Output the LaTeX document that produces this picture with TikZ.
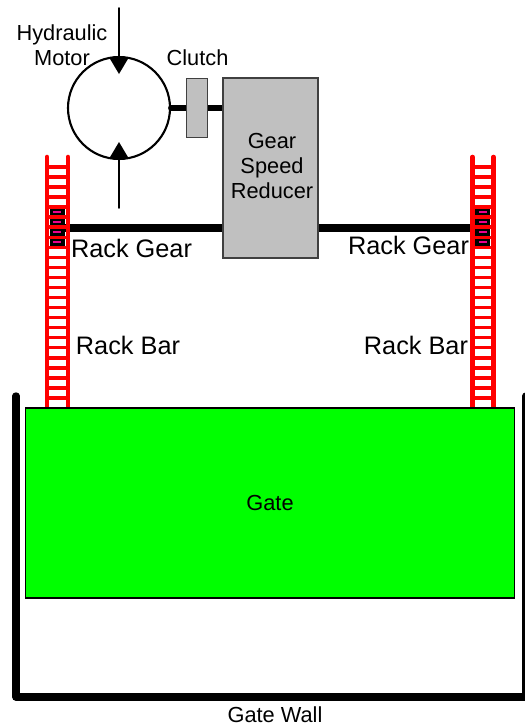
\documentclass[tikz,border=0pt]{standalone}
\usepackage{fontspec, tkz-euclide}
\setmainfont{Liberation Sans}
\tikzset{>=stealth}
\definecolor{boxgray}{HTML}{C0C0C0}
\tikzset{
    lab/.style={inner sep=0pt, font=\fontsize{6.2}{7.1}\selectfont, align=center},
    biglab/.style={inner sep=0pt, font=\fontsize{7.2}{8}\selectfont},
    part/.style={draw=black!75, line width=0.4pt, fill=boxgray, inner sep=0pt},
    shaft/.style={line width=2.1pt, line cap=butt},
    rail/.style={red, line width=1.3pt, line cap=round},
    rung/.style={red, line width=1pt}
}

\begin{document}
\begin{tikzpicture}
    \useasboundingbox (0,0) rectangle (5.25,7.26);
    \clip (0,0) rectangle (5.25,7.26);
    \tkzDefPoints{1.19/7.18/A, 1.19/6.68/B, 1.19/5.68/C, 1.19/5.18/D}
    \tkzDefPoints{0.57/4.98/E, 2.23/4.98/F, 3.18/4.98/G, 4.83/4.98/H}
    \tkzDefPoints{0.16/3.30/J, 0.16/0.29/K, 5.26/0.29/L, 5.26/3.30/M}
    % motor, clutch and reducer
    \node (motor) at (1.19,6.18) [circle, draw, line width=0.6pt, minimum size=1.02cm, inner sep=0pt] {};
    \draw[line width=1.7pt, line cap=round] (motor.east) -- (2.23,6.18);
    \tkzDrawSegments[shaft](E,F G,H)
    \node (reducer) at (2.705,5.58) [part, minimum width=0.95cm, minimum height=1.80cm] {};
    \node (clutch) at (1.97,6.18) [part, minimum width=0.21cm, minimum height=0.595cm] {};
    \tkzDrawSegments[line width=0.45pt](A,B C,D)
    \fill (1.095,6.68) -- (1.285,6.68) -- (1.19,6.52) -- cycle;
    \fill (1.095,5.68) -- (1.285,5.68) -- (1.19,5.84) -- cycle;
    % pinions and racks
    \foreach \x in {0.575, 4.83} {
        \fill (\x-0.075,5.18) rectangle (\x+0.075,4.79);
        \foreach \y in {5.14, 5.04, 4.94, 4.84}
            \fill[magenta] (\x-0.04,\y-0.012) rectangle (\x+0.04,\y+0.012);
        \draw[rail] (\x-0.105,5.69) -- (\x-0.105,3.18);
        \draw[rail] (\x+0.105,5.69) -- (\x+0.105,3.18);
        \foreach \n in {0,...,23}
            \draw[rung] (\x-0.105,5.59-0.1004*\n) -- (\x+0.105,5.59-0.1004*\n);
    }
    % gate and wall
    \fill[black!45] (0.265,2.27) rectangle (5.155,3.17);
    \node (gate) at (2.70,2.23) [draw, line width=0.4pt, fill=green, minimum width=4.89cm, minimum height=1.90cm, inner sep=0pt, lab] {Gate};
    \draw[line width=2.1pt, line cap=round, line join=round] (J) -- (K) -- (L) -- (M);
    % labels
    \node (hydraulic) at (0.62,6.805) [lab] {Hydraulic\\Motor};
    \node (clutchlab) at (1.975,6.68) [lab] {Clutch};
    \node (reducerlab) at (2.72,5.60) [lab] {Gear\\Speed\\Reducer};
    \node (gearl) at (1.315,4.78) [biglab] {Rack Gear};
    \node (gearr) at (4.085,4.81) [biglab] {Rack Gear};
    \node (barl) at (1.28,3.81) [biglab] {Rack Bar};
    \node (barr) at (4.16,3.81) [biglab] {Rack Bar};
    \node (wall) at (2.75,0.11) [lab] {Gate Wall};
\end{tikzpicture}
\end{document}
